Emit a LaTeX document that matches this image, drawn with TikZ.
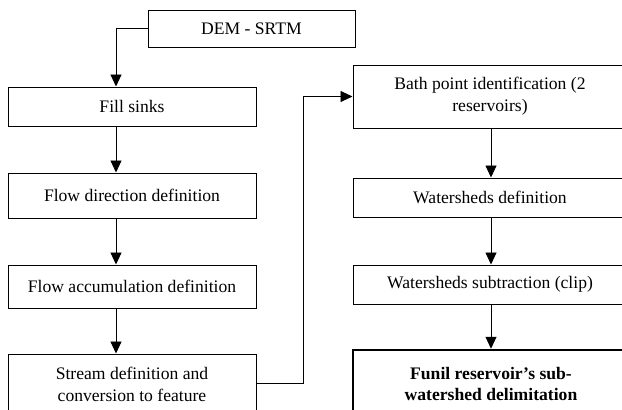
\documentclass[tikz,border=0pt]{standalone}
\usepackage{fontspec}
\setmainfont{Liberation Serif}
\usetikzlibrary{arrows.meta}
\begin{document}
\begin{tikzpicture}[x=1pt,y=-1pt,
  box/.style={draw, line width=1pt, inner sep=0pt, align=center, font=\fontsize{17.6}{22}\selectfont},
  txt/.style={inner sep=0pt, align=center, font=\fontsize{17.6}{22}\selectfont},
  arr/.style={line width=0.9pt, -{Triangle[length=12pt,width=11pt]}}]
\useasboundingbox (0,0) rectangle (622,410);
\clip (0,0) rectangle (622,410);
\node[box, minimum width=207pt, minimum height=37pt] (dem) at (251.5,28.5) {DEM - SRTM};
\node[box, minimum width=248pt, minimum height=39pt] (fill) at (132,106.5) {Fill sinks};
\node[box, minimum width=248pt, minimum height=45pt] (dir) at (132,195.5) {Flow direction definition};
\node[box, minimum width=248pt, minimum height=43pt] (acc) at (132,286.5) {Flow accumulation definition};
\node[box, minimum width=248pt, minimum height=58pt] (stream) at (132,383) {};
\node[txt] (streamtxt) at (132,384) {Stream definition and\\conversion to feature};
\node[box, minimum width=274pt, minimum height=63pt] (bath) at (490,96.5) {Bath point identification (2\\reservoirs)};
\node[box, minimum width=274pt, minimum height=39pt] (wsd) at (490,197.5) {Watersheds definition};
\node[box, minimum width=274pt, minimum height=39pt] (wss) at (490,284.5) {Watersheds subtraction (clip)};
\node[box, line width=2.5pt, minimum width=274pt, minimum height=64pt] (funil) at (490,382) {};
\node[txt, font=\fontsize{17.6}{21}\selectfont\bfseries] (funiltxt) at (491,383.5) {Funil reservoir’s sub-\\watershed delimitation};
\draw[arr] (dem.west) -| ([xshift=-16pt]fill.north);
\draw[arr] ([xshift=-16pt]fill.south) -- ([xshift=-16pt]dir.north);
\draw[arr] ([xshift=-16pt]dir.south) -- ([xshift=-16pt]acc.north);
\draw[arr] ([xshift=-16pt]acc.south) -- ([xshift=-16pt]stream.north);
\draw[arr] (stream.east) -- ++(47,0) |- (bath.west);
\draw[arr] ([xshift=1pt]bath.south) -- ([xshift=1pt]wsd.north);
\draw[arr] ([xshift=1pt]wsd.south) -- ([xshift=1pt]wss.north);
\draw[arr] ([xshift=1pt]wss.south) -- ([xshift=1pt]funil.north);
\end{tikzpicture}
\end{document}
